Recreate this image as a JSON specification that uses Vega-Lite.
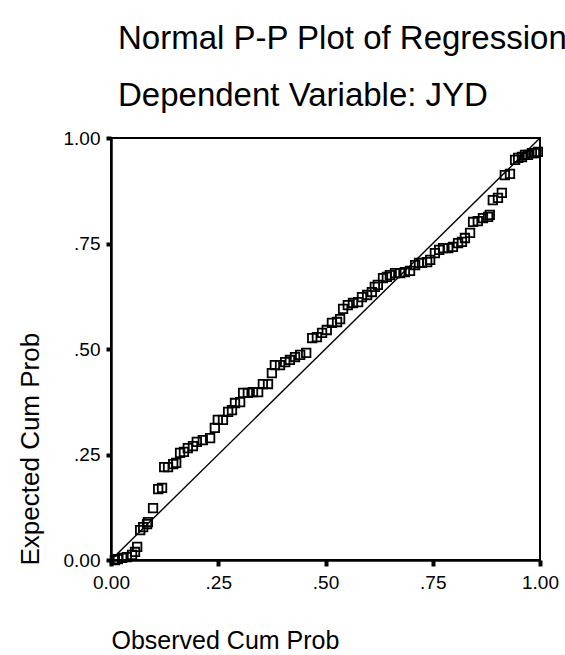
{
  "$schema": "https://vega.github.io/schema/vega-lite/v6.json",
  "autosize": "none",
  "width": 429,
  "height": 422,
  "padding": {"left": 111, "top": 138, "right": 25, "bottom": 95},
  "background": "white",
  "config": {
    "font": "Liberation Sans",
    "view": {"stroke": "black", "strokeWidth": 2}
  },
  "title": {
    "text": ["Normal P-P Plot of Regression Standardized Residual", "Dependent Variable: JYD"],
    "anchor": "start",
    "frame": "group",
    "dx": 7,
    "offset": 16,
    "fontSize": 33,
    "fontWeight": "normal",
    "lineHeight": 57,
    "color": "black",
    "font": "Liberation Sans"
  },
  "datasets": {
    "pts": [
      {"obs": 0.009, "exp": 0.000}, {"obs": 0.016, "exp": 0.002}, {"obs": 0.026, "exp": 0.005},
      {"obs": 0.037, "exp": 0.007}, {"obs": 0.049, "exp": 0.012}, {"obs": 0.056, "exp": 0.019},
      {"obs": 0.061, "exp": 0.031}, {"obs": 0.068, "exp": 0.071}, {"obs": 0.075, "exp": 0.078},
      {"obs": 0.084, "exp": 0.085}, {"obs": 0.086, "exp": 0.090}, {"obs": 0.098, "exp": 0.123},
      {"obs": 0.110, "exp": 0.168}, {"obs": 0.119, "exp": 0.171}, {"obs": 0.124, "exp": 0.220},
      {"obs": 0.133, "exp": 0.220}, {"obs": 0.145, "exp": 0.227}, {"obs": 0.152, "exp": 0.230},
      {"obs": 0.161, "exp": 0.254}, {"obs": 0.170, "exp": 0.256}, {"obs": 0.179, "exp": 0.265},
      {"obs": 0.191, "exp": 0.270}, {"obs": 0.200, "exp": 0.280}, {"obs": 0.214, "exp": 0.284},
      {"obs": 0.231, "exp": 0.289}, {"obs": 0.242, "exp": 0.313}, {"obs": 0.249, "exp": 0.332},
      {"obs": 0.261, "exp": 0.332}, {"obs": 0.273, "exp": 0.351}, {"obs": 0.282, "exp": 0.355},
      {"obs": 0.289, "exp": 0.372}, {"obs": 0.301, "exp": 0.374}, {"obs": 0.308, "exp": 0.396},
      {"obs": 0.319, "exp": 0.396}, {"obs": 0.331, "exp": 0.398}, {"obs": 0.343, "exp": 0.398},
      {"obs": 0.354, "exp": 0.417}, {"obs": 0.366, "exp": 0.417}, {"obs": 0.375, "exp": 0.443},
      {"obs": 0.382, "exp": 0.462}, {"obs": 0.394, "exp": 0.462}, {"obs": 0.406, "exp": 0.469},
      {"obs": 0.417, "exp": 0.474}, {"obs": 0.429, "exp": 0.481}, {"obs": 0.441, "exp": 0.486},
      {"obs": 0.455, "exp": 0.491}, {"obs": 0.469, "exp": 0.526}, {"obs": 0.480, "exp": 0.528},
      {"obs": 0.492, "exp": 0.538}, {"obs": 0.503, "exp": 0.545}, {"obs": 0.515, "exp": 0.562},
      {"obs": 0.527, "exp": 0.564}, {"obs": 0.534, "exp": 0.571}, {"obs": 0.541, "exp": 0.595},
      {"obs": 0.552, "exp": 0.604}, {"obs": 0.564, "exp": 0.609}, {"obs": 0.576, "exp": 0.611},
      {"obs": 0.585, "exp": 0.623}, {"obs": 0.597, "exp": 0.628}, {"obs": 0.608, "exp": 0.635},
      {"obs": 0.615, "exp": 0.647}, {"obs": 0.622, "exp": 0.652}, {"obs": 0.634, "exp": 0.668},
      {"obs": 0.643, "exp": 0.671}, {"obs": 0.650, "exp": 0.675}, {"obs": 0.662, "exp": 0.680},
      {"obs": 0.674, "exp": 0.680}, {"obs": 0.685, "exp": 0.682}, {"obs": 0.697, "exp": 0.685},
      {"obs": 0.709, "exp": 0.699}, {"obs": 0.718, "exp": 0.704}, {"obs": 0.725, "exp": 0.704},
      {"obs": 0.737, "exp": 0.706}, {"obs": 0.744, "exp": 0.711}, {"obs": 0.755, "exp": 0.727},
      {"obs": 0.765, "exp": 0.735}, {"obs": 0.774, "exp": 0.739}, {"obs": 0.786, "exp": 0.739},
      {"obs": 0.797, "exp": 0.742}, {"obs": 0.809, "exp": 0.751}, {"obs": 0.818, "exp": 0.754},
      {"obs": 0.825, "exp": 0.763}, {"obs": 0.837, "exp": 0.775}, {"obs": 0.844, "exp": 0.801},
      {"obs": 0.855, "exp": 0.803}, {"obs": 0.867, "exp": 0.810}, {"obs": 0.879, "exp": 0.813},
      {"obs": 0.883, "exp": 0.818}, {"obs": 0.890, "exp": 0.853}, {"obs": 0.902, "exp": 0.858},
      {"obs": 0.911, "exp": 0.870}, {"obs": 0.918, "exp": 0.912}, {"obs": 0.930, "exp": 0.915},
      {"obs": 0.942, "exp": 0.948}, {"obs": 0.949, "exp": 0.953}, {"obs": 0.958, "exp": 0.955},
      {"obs": 0.965, "exp": 0.960}, {"obs": 0.972, "exp": 0.960}, {"obs": 0.981, "exp": 0.964},
      {"obs": 0.988, "exp": 0.964}, {"obs": 0.995, "exp": 0.967}
    ],
    "diag": [{"obs": 0, "exp": 0}, {"obs": 1, "exp": 1}]
  },
  "layer": [
    {
      "data": {"name": "diag"},
      "mark": {"type": "line", "color": "black", "strokeWidth": 1.4},
      "encoding": {
        "x": {"field": "obs", "type": "quantitative"},
        "y": {"field": "exp", "type": "quantitative"}
      }
    },
    {
      "data": {"name": "pts"},
      "mark": {"type": "point", "shape": "square", "filled": false, "color": "black", "size": 72, "strokeWidth": 1.8, "opacity": 1},
      "encoding": {
        "x": {
          "field": "obs", "type": "quantitative",
          "scale": {"domain": [0, 1], "nice": false, "zero": false},
          "axis": {
            "title": "Observed Cum Prob",
            "values": [0, 0.25, 0.5, 0.75, 1],
            "labelExpr": "datum.value == 0 ? '0.00' : datum.value == 1 ? '1.00' : replace(format(datum.value, '.2f'), '0.', '.')",
            "labelFlush": false,
            "labelOverlap": false,
            "grid": false,
            "domainColor": "black", "domainWidth": 2.5,
            "tickColor": "black", "tickSize": 6, "tickWidth": 4,
            "labelFontSize": 19, "labelColor": "black", "labelPadding": 7, "labelFont": "Liberation Sans",
            "titleFontSize": 25, "titleFontWeight": "normal", "titleColor": "black", "titleFont": "Liberation Sans",
            "titleAlign": "left", "titleAnchor": "start", "titleX": 0, "titleY": 88, "titleBaseline": "alphabetic"
          }
        },
        "y": {
          "field": "exp", "type": "quantitative",
          "scale": {"domain": [0, 1], "nice": false, "zero": false},
          "axis": {
            "title": "Expected Cum Prob",
            "values": [0, 0.25, 0.5, 0.75, 1],
            "labelExpr": "datum.value == 0 ? '0.00' : datum.value == 1 ? '1.00' : replace(format(datum.value, '.2f'), '0.', '.')",
            "labelFlush": false,
            "labelOverlap": false,
            "grid": false,
            "domainColor": "black", "domainWidth": 2.5,
            "tickColor": "black", "tickSize": 5, "tickWidth": 4,
            "labelFontSize": 19, "labelColor": "black", "labelPadding": 6, "labelFont": "Liberation Sans",
            "titleFontSize": 26, "titleFontWeight": "normal", "titleColor": "black", "titleFont": "Liberation Sans",
            "titleAngle": -90, "titleAlign": "left", "titleAnchor": "start", "titleX": -73, "titleY": 427, "titleBaseline": "alphabetic"
          }
        }
      }
    }
  ]
}
